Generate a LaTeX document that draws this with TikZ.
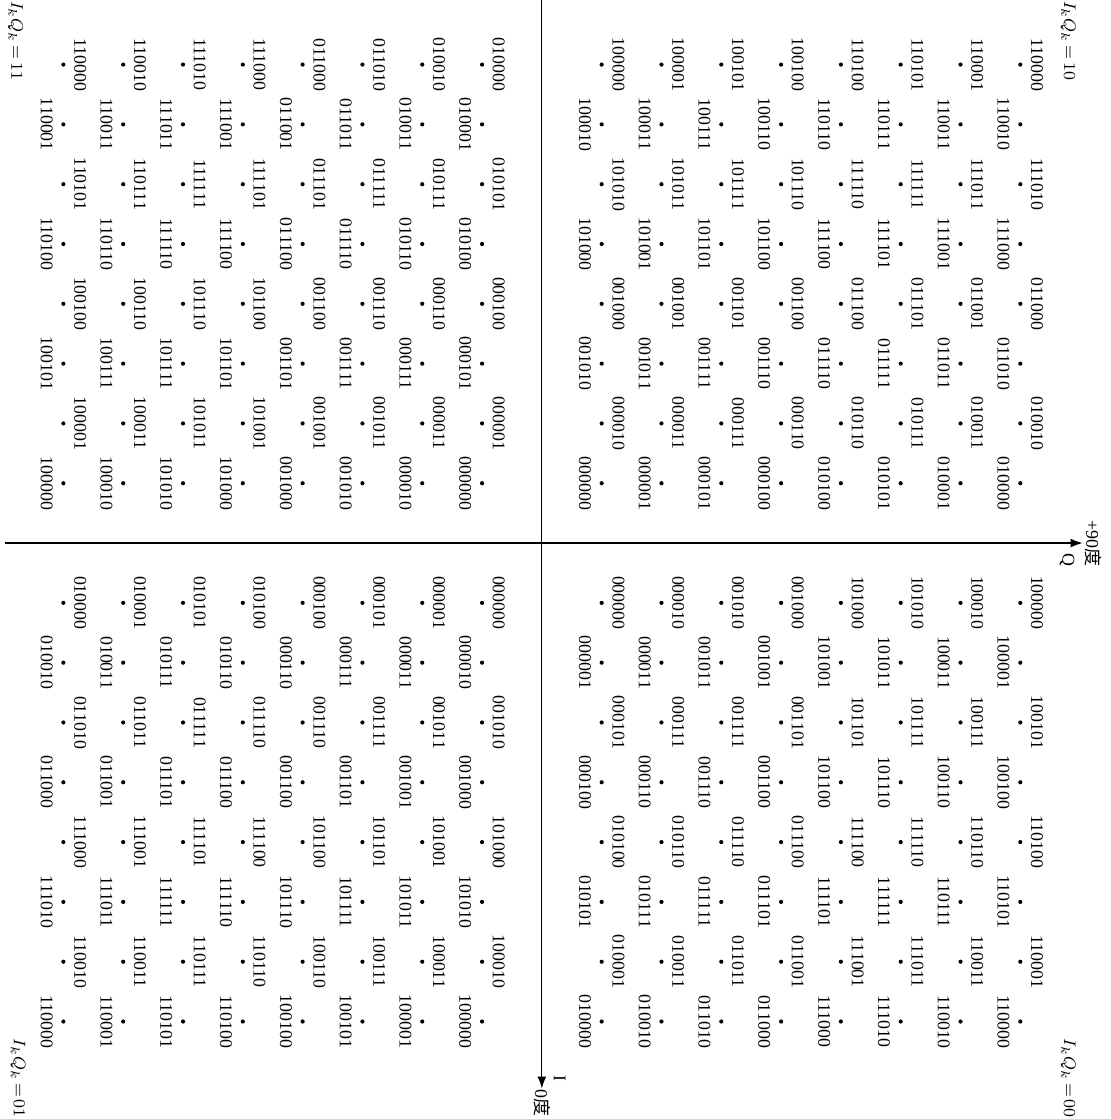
\documentclass[tikz,border=0pt]{standalone}
\usepackage{fontspec}
\setmainfont{Liberation Serif}
\newfontfamily\cjk{Noto Sans CJK SC}
\usepackage{tikz}
\usetikzlibrary{arrows.meta}

\begin{document}
\begin{tikzpicture}[
        rotate=-90, transform shape,
        font=\fontsize{8.5}{10}\selectfont,
        dot/.style={circle, fill=black, inner sep=0pt, minimum size=0.7mm},
        bits/.style={inner sep=0pt},
        axis/.style={line width=0.6pt, -{Latex[length=2mm, width=1.5mm]}},
        quad/.style={font=\fontsize{8}{10}\selectfont}
    ]
    \useasboundingbox (-9.08,-9.06) rectangle (9.63,9.51);

    % Axes (I = 0 deg, Q = +90 deg)
    \coordinate (iS) at (-9.08,0);
    \coordinate (iE) at (9.12,0);
    \coordinate (qS) at (0,-8.98);
    \coordinate (qE) at (0,9.04);
    \draw[axis] (iS) -- (iE);
    \draw[axis] (qS) -- (qE);
    \node[anchor=west, inner sep=0.5pt] (ideg) at (iE) {0\cjk 度};
    \node                               (ilab) at (8.95,0.3) {I};
    \node[anchor=south, inner sep=1pt]  (qdeg) at (qE) {+90\cjk 度};
    \node                               (qlab) at (0.28,8.78) {Q};

    % Quadrant labels
    \node[quad] (lab00) at (8.95,8.8)   {$I_kQ_k\,{=}\,00$};
    \node[quad] (lab10) at (-8.4,8.8)   {$I_kQ_k\,{=}\,10$};
    \node[quad] (lab11) at (-8.4,-8.8)  {$I_kQ_k\,{=}\,11$};
    \node[quad] (lab01) at (8.95,-8.76) {$I_kQ_k\,{=}\,01$};

    % Points: Gray code on |I| and |Q|, bits interleaved per quadrant
    \foreach \q/\sx/\sy/\sw in {00/1/1/0, 10/-1/1/1, 11/-1/-1/0, 01/1/-1/1}
      \foreach \i/\aA/\aB/\aC in {1/0/0/0, 2/0/0/1, 3/0/1/1, 4/0/1/0, 5/1/1/0, 6/1/1/1, 7/1/0/1, 8/1/0/0}
        \foreach \j/\cA/\cB/\cC in {1/0/0/0, 2/0/0/1, 3/0/1/1, 4/0/1/0, 5/1/1/0, 6/1/1/1, 7/1/0/1, 8/1/0/0} {
          \pgfmathsetmacro\px{\sx*\i}
          \pgfmathsetmacro\py{\sy*\j}
          \pgfmathsetmacro\ly{\py+ifthenelse(mod(\i+(\sx<0),2)==1, 0.28, -0.28)}
          \node[dot]  (pt\q-\i-\j)  at (\px,\py) {};
          \node[bits] (bit\q-\i-\j) at (\px,\ly)
              {\ifnum\sw=0 \cA\aA\cB\aB\cC\aC\else\aA\cA\aB\cB\aC\cC\fi};
        }
\end{tikzpicture}
\end{document}
